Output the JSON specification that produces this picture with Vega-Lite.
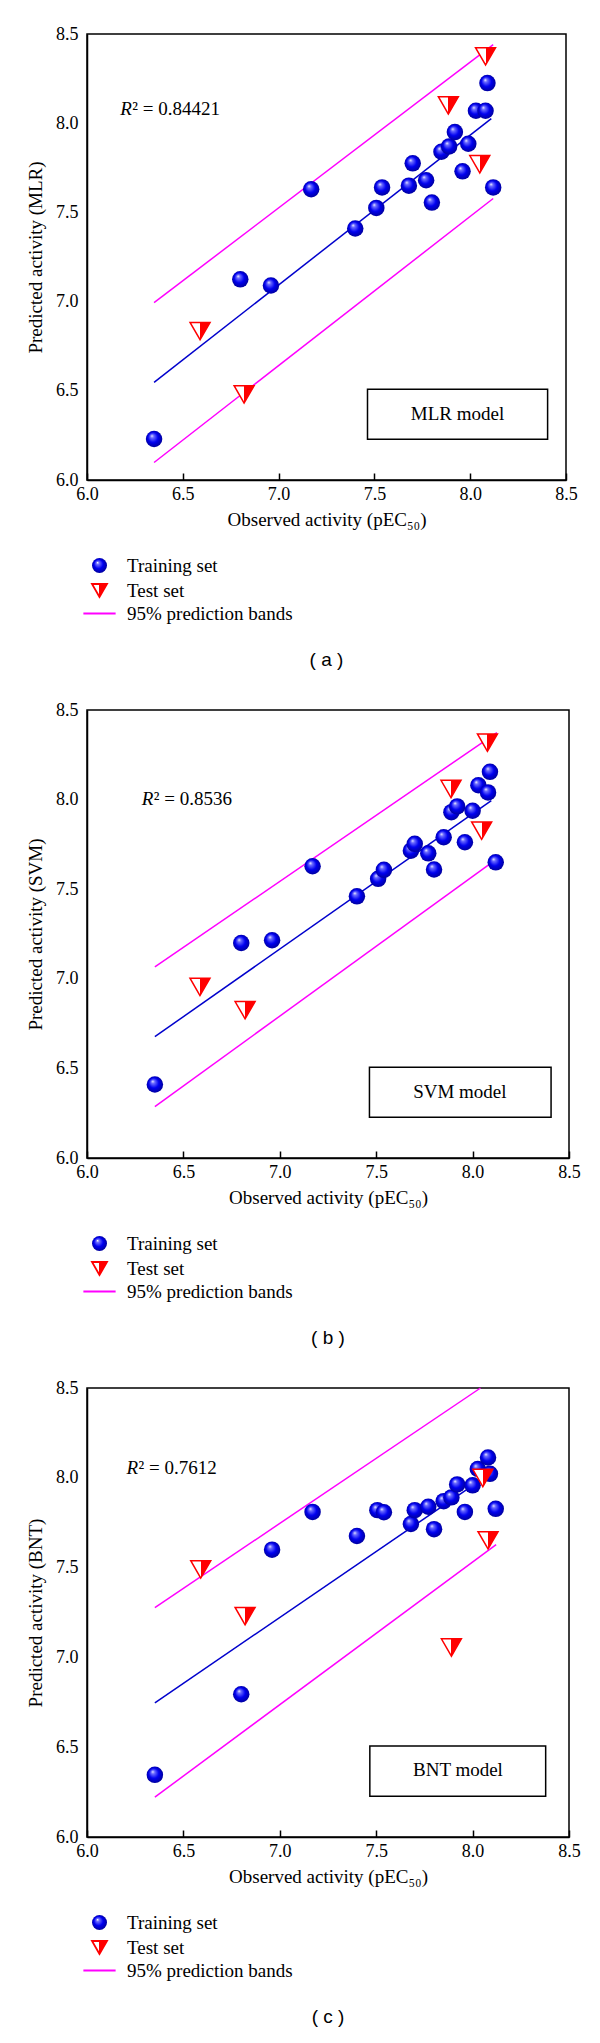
{
  "$schema": "https://vega.github.io/schema/vega-lite/v6.json",
  "padding": {"top": 24, "left": 25, "right": 5, "bottom": 5},
  "background": "white",
  "datasets": {
    "pts": [
      {"panel":"a","set":"Training set","obs":6.35,"pred":6.23},
      {"panel":"a","set":"Training set","obs":6.80,"pred":7.125},
      {"panel":"a","set":"Training set","obs":6.96,"pred":7.09},
      {"panel":"a","set":"Training set","obs":7.17,"pred":7.63},
      {"panel":"a","set":"Training set","obs":7.40,"pred":7.41},
      {"panel":"a","set":"Training set","obs":7.51,"pred":7.525},
      {"panel":"a","set":"Training set","obs":7.54,"pred":7.64},
      {"panel":"a","set":"Training set","obs":7.68,"pred":7.65},
      {"panel":"a","set":"Training set","obs":7.70,"pred":7.775},
      {"panel":"a","set":"Training set","obs":7.77,"pred":7.68},
      {"panel":"a","set":"Training set","obs":7.80,"pred":7.555},
      {"panel":"a","set":"Training set","obs":7.85,"pred":7.84},
      {"panel":"a","set":"Training set","obs":7.89,"pred":7.87},
      {"panel":"a","set":"Training set","obs":7.92,"pred":7.95},
      {"panel":"a","set":"Training set","obs":7.96,"pred":7.73},
      {"panel":"a","set":"Training set","obs":7.99,"pred":7.885},
      {"panel":"a","set":"Training set","obs":8.03,"pred":8.07},
      {"panel":"a","set":"Training set","obs":8.08,"pred":8.07},
      {"panel":"a","set":"Training set","obs":8.09,"pred":8.225},
      {"panel":"a","set":"Training set","obs":8.12,"pred":7.64},
      {"panel":"a","set":"Test set","obs":6.59,"pred":6.835},
      {"panel":"a","set":"Test set","obs":6.82,"pred":6.48},
      {"panel":"a","set":"Test set","obs":7.886,"pred":8.10},
      {"panel":"a","set":"Test set","obs":8.05,"pred":7.77},
      {"panel":"a","set":"Test set","obs":8.08,"pred":8.375},
      {"panel":"b","set":"Training set","obs":6.352,"pred":6.41},
      {"panel":"b","set":"Training set","obs":6.80,"pred":7.20},
      {"panel":"b","set":"Training set","obs":6.96,"pred":7.215},
      {"panel":"b","set":"Training set","obs":7.17,"pred":7.628},
      {"panel":"b","set":"Training set","obs":7.40,"pred":7.46},
      {"panel":"b","set":"Training set","obs":7.51,"pred":7.558},
      {"panel":"b","set":"Training set","obs":7.54,"pred":7.608},
      {"panel":"b","set":"Training set","obs":7.68,"pred":7.715},
      {"panel":"b","set":"Training set","obs":7.70,"pred":7.753},
      {"panel":"b","set":"Training set","obs":7.77,"pred":7.70},
      {"panel":"b","set":"Training set","obs":7.80,"pred":7.61},
      {"panel":"b","set":"Training set","obs":7.85,"pred":7.79},
      {"panel":"b","set":"Training set","obs":7.89,"pred":7.93},
      {"panel":"b","set":"Training set","obs":7.92,"pred":7.962},
      {"panel":"b","set":"Training set","obs":7.96,"pred":7.762},
      {"panel":"b","set":"Training set","obs":8.00,"pred":7.938},
      {"panel":"b","set":"Training set","obs":8.03,"pred":8.08},
      {"panel":"b","set":"Training set","obs":8.08,"pred":8.04},
      {"panel":"b","set":"Training set","obs":8.09,"pred":8.155},
      {"panel":"b","set":"Training set","obs":8.12,"pred":7.65},
      {"panel":"b","set":"Test set","obs":6.586,"pred":6.955},
      {"panel":"b","set":"Test set","obs":6.82,"pred":6.825},
      {"panel":"b","set":"Test set","obs":7.888,"pred":8.059},
      {"panel":"b","set":"Test set","obs":8.047,"pred":7.827},
      {"panel":"b","set":"Test set","obs":8.077,"pred":8.318},
      {"panel":"c","set":"Training set","obs":6.352,"pred":6.346},
      {"panel":"c","set":"Training set","obs":6.80,"pred":6.795},
      {"panel":"c","set":"Training set","obs":6.96,"pred":7.60},
      {"panel":"c","set":"Training set","obs":7.17,"pred":7.81},
      {"panel":"c","set":"Training set","obs":7.40,"pred":7.676},
      {"panel":"c","set":"Training set","obs":7.506,"pred":7.82},
      {"panel":"c","set":"Training set","obs":7.54,"pred":7.808},
      {"panel":"c","set":"Training set","obs":7.68,"pred":7.743},
      {"panel":"c","set":"Training set","obs":7.70,"pred":7.82},
      {"panel":"c","set":"Training set","obs":7.77,"pred":7.839},
      {"panel":"c","set":"Training set","obs":7.80,"pred":7.714},
      {"panel":"c","set":"Training set","obs":7.85,"pred":7.87},
      {"panel":"c","set":"Training set","obs":7.89,"pred":7.891},
      {"panel":"c","set":"Training set","obs":7.92,"pred":7.963},
      {"panel":"c","set":"Training set","obs":7.96,"pred":7.81},
      {"panel":"c","set":"Training set","obs":8.00,"pred":7.958},
      {"panel":"c","set":"Training set","obs":8.027,"pred":8.049},
      {"panel":"c","set":"Training set","obs":8.09,"pred":8.022},
      {"panel":"c","set":"Training set","obs":8.08,"pred":8.113},
      {"panel":"c","set":"Training set","obs":8.12,"pred":7.827},
      {"panel":"c","set":"Test set","obs":6.59,"pred":7.49},
      {"panel":"c","set":"Test set","obs":6.82,"pred":7.23},
      {"panel":"c","set":"Test set","obs":7.89,"pred":7.055},
      {"panel":"c","set":"Test set","obs":8.053,"pred":7.999},
      {"panel":"c","set":"Test set","obs":8.08,"pred":7.652}
    ],
    "lines": [
      {"panel":"a","set":"fit","band":"fit","obs":6.35,"pred":6.547},
      {"panel":"a","set":"fit","band":"fit","obs":8.11,"pred":8.026},
      {"panel":"a","set":"95% prediction bands","band":"upper","obs":6.35,"pred":6.994},
      {"panel":"a","set":"95% prediction bands","band":"upper","obs":8.12,"pred":8.44},
      {"panel":"a","set":"95% prediction bands","band":"lower","obs":6.35,"pred":6.098},
      {"panel":"a","set":"95% prediction bands","band":"lower","obs":8.12,"pred":7.578},
      {"panel":"b","set":"fit","band":"fit","obs":6.352,"pred":6.677},
      {"panel":"b","set":"fit","band":"fit","obs":8.097,"pred":7.994},
      {"panel":"b","set":"95% prediction bands","band":"upper","obs":6.352,"pred":7.066},
      {"panel":"b","set":"95% prediction bands","band":"upper","obs":8.126,"pred":8.374},
      {"panel":"b","set":"95% prediction bands","band":"lower","obs":6.352,"pred":6.287},
      {"panel":"b","set":"95% prediction bands","band":"lower","obs":8.126,"pred":7.669},
      {"panel":"c","set":"fit","band":"fit","obs":6.352,"pred":6.747},
      {"panel":"c","set":"fit","band":"fit","obs":8.10,"pred":8.03},
      {"panel":"c","set":"95% prediction bands","band":"upper","obs":6.352,"pred":7.277},
      {"panel":"c","set":"95% prediction bands","band":"upper","obs":8.041,"pred":8.5},
      {"panel":"c","set":"95% prediction bands","band":"lower","obs":6.352,"pred":6.222},
      {"panel":"c","set":"95% prediction bands","band":"lower","obs":8.122,"pred":7.628}
    ],
    "boxes": [
      {"panel":"a","obs":7.464,"obs2":8.404,"pred":6.229,"pred2":6.509},
      {"panel":"b","obs":7.465,"obs2":8.407,"pred":6.228,"pred2":6.506},
      {"panel":"c","obs":7.467,"obs2":8.379,"pred":6.227,"pred2":6.506}
    ],
    "labels": [
      {"panel":"a","kind":"model","obs":7.934,"pred":6.37,"text":"MLR model"},
      {"panel":"a","kind":"r2","obs":6.174,"pred":8.08,"text":"² = 0.84421"},
      {"panel":"b","kind":"model","obs":7.934,"pred":6.371,"text":"SVM model"},
      {"panel":"b","kind":"r2","obs":6.284,"pred":8.003,"text":"² = 0.8536"},
      {"panel":"c","kind":"model","obs":7.924,"pred":6.375,"text":"BNT model"},
      {"panel":"c","kind":"r2","obs":6.205,"pred":8.053,"text":"² = 0.7612"}
    ]
  },
  "resolve": {
    "scale": {"fill": "independent", "stroke": "independent", "shape": "independent"},
    "legend": {"fill": "independent", "stroke": "independent", "shape": "independent"}
  },
  "vconcat": [
    {
      "width": 479, "height": 446,
      "title": {"text": "( a )"},
      "encoding": {
        "x": {"field": "obs", "type": "quantitative", "scale": {"domain": [6, 8.5], "nice": false, "zero": false}, "axis": {"title": "Observed activity (pEC₅₀)", "values": [6, 6.5, 7, 7.5, 8, 8.5], "format": ".1f"}},
        "y": {"field": "pred", "type": "quantitative", "scale": {"domain": [6, 8.5], "nice": false, "zero": false}, "axis": {"title": "Predicted activity (MLR)", "values": [6, 6.5, 7, 7.5, 8, 8.5], "format": ".1f"}}
      },
      "layer": [
        {"data": {"name": "boxes"}, "transform": [{"filter": "datum.panel === 'a'"}], "mark": {"type": "rect", "fill": "white", "stroke": "black", "strokeWidth": 1.5}, "encoding": {"x2": {"field": "obs2"}, "y2": {"field": "pred2"}}},
        {"data": {"name": "lines"}, "transform": [{"filter": "datum.panel === 'a' && datum.set === 'fit'"}], "mark": {"type": "line", "color": "#0000cc", "strokeWidth": 1.5}, "encoding": {"detail": {"field": "band"}}},
        {"data": {"name": "lines"}, "transform": [{"filter": "datum.panel === 'a' && datum.set !== 'fit'"}], "mark": {"type": "line", "color": "#ff00ff", "strokeWidth": 1.5}, "encoding": {"detail": {"field": "band"}}},
        {"data": {"name": "pts"}, "transform": [{"filter": "datum.panel === 'a' && datum.set === 'Training set'"}],
          "mark": {"type": "point", "filled": true, "opacity": 1, "size": 272, "strokeWidth": 1.5},
          "encoding": {
            "fill": {"field": "set", "type": "nominal", "scale": {"domain": ["Training set", "Test set", "95% prediction bands"], "range": [{"expr": "{gradient: 'radial', x1: 0.36, y1: 0.3, r1: 0, x2: 0.5, y2: 0.5, r2: 0.55, stops: [{offset: 0, color: '#ffffff'}, {offset: 0.18, color: '#7070ff'}, {offset: 0.55, color: '#0000f0'}, {offset: 1, color: '#000090'}]}"}, {"expr": "{gradient: 'linear', x1: 0, y1: 0, x2: 1, y2: 0, stops: [{offset: 0, color: '#ffffff'}, {offset: 0.5, color: '#ffffff'}, {offset: 0.5, color: '#ff0000'}, {offset: 1, color: '#ff0000'}]}"}, "transparent"]},
              "legend": {"orient": "none", "legendX": 3, "legendY": 522, "title": null, "symbolSize": 225}},
            "stroke": {"field": "set", "type": "nominal", "scale": {"domain": ["Training set", "Test set", "95% prediction bands"], "range": ["transparent", "#ff0000", "#ff00ff"]},
              "legend": {"orient": "none", "legendX": 3, "legendY": 522, "title": null, "symbolSize": 225}},
            "shape": {"field": "set", "type": "nominal", "scale": {"domain": ["Training set", "Test set", "95% prediction bands"], "range": ["circle", "triangle-down", "M-2.15,0H2.15"]},
              "legend": {"orient": "none", "legendX": 3, "legendY": 522, "title": null, "symbolSize": 225}}
          }},
        {"data": {"name": "pts"}, "transform": [{"filter": "datum.panel === 'a' && datum.set === 'Test set'"}],
          "mark": {"type": "point", "filled": true, "opacity": 1, "size": 400, "strokeWidth": 1.5},
          "encoding": {"fill": {"field": "set", "type": "nominal"}, "stroke": {"field": "set", "type": "nominal"}, "shape": {"field": "set", "type": "nominal"}}},
        {"data": {"name": "labels"}, "transform": [{"filter": "datum.panel === 'a' && datum.kind === 'model'"}], "mark": {"type": "text", "font": "Liberation Serif", "fontSize": 19, "align": "center", "baseline": "middle", "color": "black"}, "encoding": {"text": {"field": "text"}}},
        {"data": {"name": "labels"}, "transform": [{"filter": "datum.panel === 'a' && datum.kind === 'r2'"}], "mark": {"type": "text", "font": "Liberation Serif", "fontSize": 19, "fontStyle": "italic", "align": "left", "baseline": "middle", "color": "black"}, "encoding": {"text": {"value": "R"}}},
        {"data": {"name": "labels"}, "transform": [{"filter": "datum.panel === 'a' && datum.kind === 'r2'"}], "mark": {"type": "text", "font": "Liberation Serif", "fontSize": 19, "align": "left", "baseline": "middle", "dx": 12, "color": "black"}, "encoding": {"text": {"field": "text"}}}
      ]
    },
    {
      "width": 482, "height": 448,
      "title": {"text": "( b )"},
      "encoding": {
        "x": {"field": "obs", "type": "quantitative", "scale": {"domain": [6, 8.5], "nice": false, "zero": false}, "axis": {"title": "Observed activity (pEC₅₀)", "values": [6, 6.5, 7, 7.5, 8, 8.5], "format": ".1f"}},
        "y": {"field": "pred", "type": "quantitative", "scale": {"domain": [6, 8.5], "nice": false, "zero": false}, "axis": {"title": "Predicted activity (SVM)", "values": [6, 6.5, 7, 7.5, 8, 8.5], "format": ".1f"}}
      },
      "layer": [
        {"data": {"name": "boxes"}, "transform": [{"filter": "datum.panel === 'b'"}], "mark": {"type": "rect", "fill": "white", "stroke": "black", "strokeWidth": 1.5}, "encoding": {"x2": {"field": "obs2"}, "y2": {"field": "pred2"}}},
        {"data": {"name": "lines"}, "transform": [{"filter": "datum.panel === 'b' && datum.set === 'fit'"}], "mark": {"type": "line", "color": "#0000cc", "strokeWidth": 1.5}, "encoding": {"detail": {"field": "band"}}},
        {"data": {"name": "lines"}, "transform": [{"filter": "datum.panel === 'b' && datum.set !== 'fit'"}], "mark": {"type": "line", "color": "#ff00ff", "strokeWidth": 1.5}, "encoding": {"detail": {"field": "band"}}},
        {"data": {"name": "pts"}, "transform": [{"filter": "datum.panel === 'b' && datum.set === 'Training set'"}],
          "mark": {"type": "point", "filled": true, "opacity": 1, "size": 272, "strokeWidth": 1.5},
          "encoding": {
            "fill": {"field": "set", "type": "nominal", "scale": {"domain": ["Training set", "Test set", "95% prediction bands"], "range": [{"expr": "{gradient: 'radial', x1: 0.36, y1: 0.3, r1: 0, x2: 0.5, y2: 0.5, r2: 0.55, stops: [{offset: 0, color: '#ffffff'}, {offset: 0.18, color: '#7070ff'}, {offset: 0.55, color: '#0000f0'}, {offset: 1, color: '#000090'}]}"}, {"expr": "{gradient: 'linear', x1: 0, y1: 0, x2: 1, y2: 0, stops: [{offset: 0, color: '#ffffff'}, {offset: 0.5, color: '#ffffff'}, {offset: 0.5, color: '#ff0000'}, {offset: 1, color: '#ff0000'}]}"}, "transparent"]},
              "legend": {"orient": "none", "legendX": 3, "legendY": 524, "title": null, "symbolSize": 225}},
            "stroke": {"field": "set", "type": "nominal", "scale": {"domain": ["Training set", "Test set", "95% prediction bands"], "range": ["transparent", "#ff0000", "#ff00ff"]},
              "legend": {"orient": "none", "legendX": 3, "legendY": 524, "title": null, "symbolSize": 225}},
            "shape": {"field": "set", "type": "nominal", "scale": {"domain": ["Training set", "Test set", "95% prediction bands"], "range": ["circle", "triangle-down", "M-2.15,0H2.15"]},
              "legend": {"orient": "none", "legendX": 3, "legendY": 524, "title": null, "symbolSize": 225}}
          }},
        {"data": {"name": "pts"}, "transform": [{"filter": "datum.panel === 'b' && datum.set === 'Test set'"}],
          "mark": {"type": "point", "filled": true, "opacity": 1, "size": 400, "strokeWidth": 1.5},
          "encoding": {"fill": {"field": "set", "type": "nominal"}, "stroke": {"field": "set", "type": "nominal"}, "shape": {"field": "set", "type": "nominal"}}},
        {"data": {"name": "labels"}, "transform": [{"filter": "datum.panel === 'b' && datum.kind === 'model'"}], "mark": {"type": "text", "font": "Liberation Serif", "fontSize": 19, "align": "center", "baseline": "middle", "color": "black"}, "encoding": {"text": {"field": "text"}}},
        {"data": {"name": "labels"}, "transform": [{"filter": "datum.panel === 'b' && datum.kind === 'r2'"}], "mark": {"type": "text", "font": "Liberation Serif", "fontSize": 19, "fontStyle": "italic", "align": "left", "baseline": "middle", "color": "black"}, "encoding": {"text": {"value": "R"}}},
        {"data": {"name": "labels"}, "transform": [{"filter": "datum.panel === 'b' && datum.kind === 'r2'"}], "mark": {"type": "text", "font": "Liberation Serif", "fontSize": 19, "align": "left", "baseline": "middle", "dx": 12, "color": "black"}, "encoding": {"text": {"field": "text"}}}
      ]
    },
    {
      "width": 482, "height": 449,
      "title": {"text": "( c )"},
      "encoding": {
        "x": {"field": "obs", "type": "quantitative", "scale": {"domain": [6, 8.5], "nice": false, "zero": false}, "axis": {"title": "Observed activity (pEC₅₀)", "values": [6, 6.5, 7, 7.5, 8, 8.5], "format": ".1f"}},
        "y": {"field": "pred", "type": "quantitative", "scale": {"domain": [6, 8.5], "nice": false, "zero": false}, "axis": {"title": "Predicted activity (BNT)", "values": [6, 6.5, 7, 7.5, 8, 8.5], "format": ".1f"}}
      },
      "layer": [
        {"data": {"name": "boxes"}, "transform": [{"filter": "datum.panel === 'c'"}], "mark": {"type": "rect", "fill": "white", "stroke": "black", "strokeWidth": 1.5}, "encoding": {"x2": {"field": "obs2"}, "y2": {"field": "pred2"}}},
        {"data": {"name": "lines"}, "transform": [{"filter": "datum.panel === 'c' && datum.set === 'fit'"}], "mark": {"type": "line", "color": "#0000cc", "strokeWidth": 1.5}, "encoding": {"detail": {"field": "band"}}},
        {"data": {"name": "lines"}, "transform": [{"filter": "datum.panel === 'c' && datum.set !== 'fit'"}], "mark": {"type": "line", "color": "#ff00ff", "strokeWidth": 1.5}, "encoding": {"detail": {"field": "band"}}},
        {"data": {"name": "pts"}, "transform": [{"filter": "datum.panel === 'c' && datum.set === 'Training set'"}],
          "mark": {"type": "point", "filled": true, "opacity": 1, "size": 272, "strokeWidth": 1.5},
          "encoding": {
            "fill": {"field": "set", "type": "nominal", "scale": {"domain": ["Training set", "Test set", "95% prediction bands"], "range": [{"expr": "{gradient: 'radial', x1: 0.36, y1: 0.3, r1: 0, x2: 0.5, y2: 0.5, r2: 0.55, stops: [{offset: 0, color: '#ffffff'}, {offset: 0.18, color: '#7070ff'}, {offset: 0.55, color: '#0000f0'}, {offset: 1, color: '#000090'}]}"}, {"expr": "{gradient: 'linear', x1: 0, y1: 0, x2: 1, y2: 0, stops: [{offset: 0, color: '#ffffff'}, {offset: 0.5, color: '#ffffff'}, {offset: 0.5, color: '#ff0000'}, {offset: 1, color: '#ff0000'}]}"}, "transparent"]},
              "legend": {"orient": "none", "legendX": 3, "legendY": 525, "title": null, "symbolSize": 225}},
            "stroke": {"field": "set", "type": "nominal", "scale": {"domain": ["Training set", "Test set", "95% prediction bands"], "range": ["transparent", "#ff0000", "#ff00ff"]},
              "legend": {"orient": "none", "legendX": 3, "legendY": 525, "title": null, "symbolSize": 225}},
            "shape": {"field": "set", "type": "nominal", "scale": {"domain": ["Training set", "Test set", "95% prediction bands"], "range": ["circle", "triangle-down", "M-2.15,0H2.15"]},
              "legend": {"orient": "none", "legendX": 3, "legendY": 525, "title": null, "symbolSize": 225}}
          }},
        {"data": {"name": "pts"}, "transform": [{"filter": "datum.panel === 'c' && datum.set === 'Test set'"}],
          "mark": {"type": "point", "filled": true, "opacity": 1, "size": 400, "strokeWidth": 1.5},
          "encoding": {"fill": {"field": "set", "type": "nominal"}, "stroke": {"field": "set", "type": "nominal"}, "shape": {"field": "set", "type": "nominal"}}},
        {"data": {"name": "labels"}, "transform": [{"filter": "datum.panel === 'c' && datum.kind === 'model'"}], "mark": {"type": "text", "font": "Liberation Serif", "fontSize": 19, "align": "center", "baseline": "middle", "color": "black"}, "encoding": {"text": {"field": "text"}}},
        {"data": {"name": "labels"}, "transform": [{"filter": "datum.panel === 'c' && datum.kind === 'r2'"}], "mark": {"type": "text", "font": "Liberation Serif", "fontSize": 19, "fontStyle": "italic", "align": "left", "baseline": "middle", "color": "black"}, "encoding": {"text": {"value": "R"}}},
        {"data": {"name": "labels"}, "transform": [{"filter": "datum.panel === 'c' && datum.kind === 'r2'"}], "mark": {"type": "text", "font": "Liberation Serif", "fontSize": 19, "align": "left", "baseline": "middle", "dx": 12, "color": "black"}, "encoding": {"text": {"field": "text"}}}
      ]
    }
  ],
  "config": {
    "view": {"stroke": "black", "strokeWidth": 1.5},
    "concat": {"spacing": 29},
    "axis": {"domainColor": "black", "domainWidth": 1.5, "grid": false, "labelFont": "Liberation Serif", "labelFontSize": 18, "labelColor": "black", "titleFont": "Liberation Serif", "titleFontSize": 19, "titleFontWeight": "normal", "titleColor": "black", "tickColor": "black", "tickWidth": 1.5, "labelFlush": false, "labelOverlap": false},
    "axisX": {"tickSize": -7, "labelPadding": 12, "titlePadding": 7},
    "axisY": {"ticks": false, "labelPadding": 9, "titlePadding": 10},
    "legend": {"labelFont": "Liberation Serif", "labelFontSize": 19, "labelColor": "black", "symbolSize": 225, "symbolStrokeWidth": 1.8, "labelOffset": 18, "rowPadding": 3, "padding": 0, "direction": "vertical", "labelLimit": 400, "symbolOpacity": 1},
    "title": {"orient": "bottom", "anchor": "middle", "frame": "group", "font": "Liberation Sans", "fontSize": 19, "fontWeight": "normal", "color": "black", "offset": 27}
  }
}
